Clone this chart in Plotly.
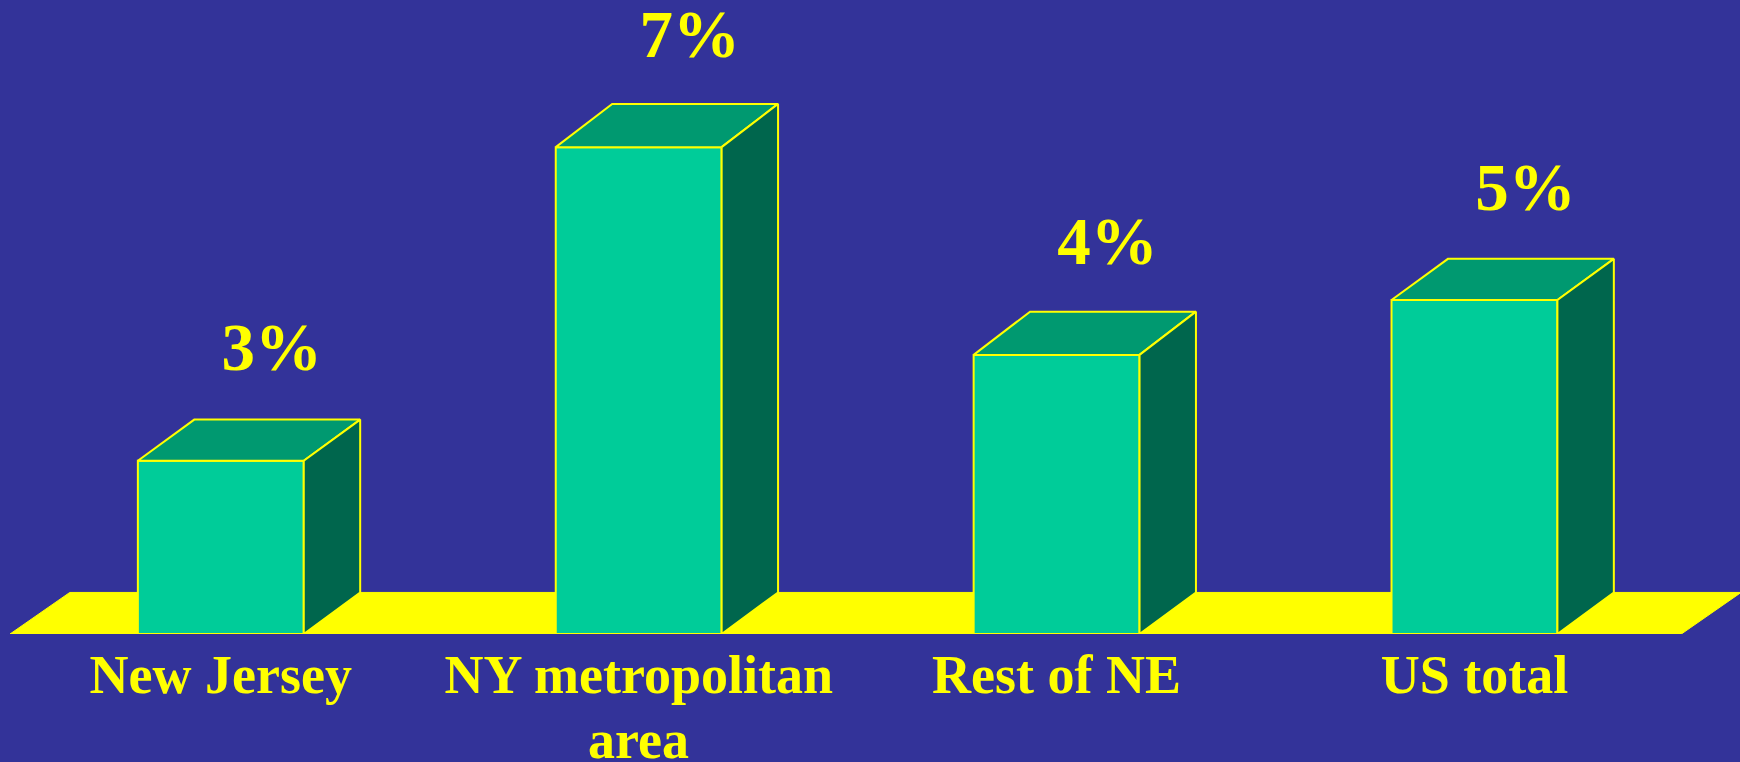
import plotly.graph_objects as go

categories = ["New Jersey", "NY metropolitan", "Rest of NE", "US total"]
second_lines = ["", "area", "", ""]
values = [3.0, 7.0, 4.35, 5.05]
value_labels = ["3%", "7%", "4%", "5%"]

BASE = 0.79
BAR_W = 0.397
DX = 0.135
DY = 0.53
TOP_DY = [0.525, 0.552, 0.552, 0.525]
LABEL_DX = 0.122
LABEL_DY = 0.94
FONT = "Liberation Serif"
BG = "#333399"
YEL = "#FFFF00"
FRONT = "#00CC99"
TOP = "#009970"
SIDE = "#00664D"
EDGE = 2

xs = list(range(len(categories)))

top_x, top_y, side_x, side_y = [], [], [], []
for x, v, d in zip(xs, values, TOP_DY):
    l, r = x - BAR_W / 2, x + BAR_W / 2
    top_x += [l, l + DX, r + DX, r, l, None]
    top_y += [v, v + d, v + d, v, v, None]
    side_x += [r, r + DX, r + DX, r, r, None]
    side_y += [v, v + d, BASE + DY, BASE, v, None]

fig = go.Figure()
fig.add_trace(go.Bar(
    x=xs, y=[v - BASE for v in values], base=BASE, width=BAR_W,
    marker=dict(color=FRONT, line=dict(color=YEL, width=EDGE)),
    hoverinfo="skip", showlegend=False, cliponaxis=False,
))
fig.add_trace(go.Scatter(
    x=top_x, y=top_y, mode="lines", fill="toself", fillcolor=TOP,
    line=dict(color=YEL, width=EDGE), hoverinfo="skip", showlegend=False, cliponaxis=False,
))
fig.add_trace(go.Scatter(
    x=side_x, y=side_y, mode="lines", fill="toself", fillcolor=SIDE,
    line=dict(color=YEL, width=EDGE), hoverinfo="skip", showlegend=False, cliponaxis=False,
))
fig.add_trace(go.Scatter(
    x=[x + LABEL_DX for x in xs], y=[v + LABEL_DY for v in values],
    mode="text", text=value_labels, textposition="top center",
    textfont=dict(family=FONT, size=67, color=YEL, weight="bold"),
    hoverinfo="skip", showlegend=False, cliponaxis=False,
))

FLOOR_L, FLOOR_R, FLOOR_DX = -0.5044, 3.495, 0.143
fig.add_shape(
    type="path", layer="below",
    path=f"M {FLOOR_L} {BASE} L {FLOOR_L + FLOOR_DX} {BASE + DY} "
         f"L {FLOOR_R + FLOOR_DX} {BASE + DY} L {FLOOR_R} {BASE} Z",
    fillcolor=YEL, line=dict(color=YEL, width=1),
)

for x, t in zip(xs, second_lines):
    if t:
        fig.add_annotation(
            x=x, xref="x", y=-0.116, yref="paper", text=t, showarrow=False,
            yanchor="top", font=dict(family=FONT, size=54, color=YEL, weight="bold"),
        )

fig.update_layout(
    width=1740, height=762, autosize=False,
    margin=dict(l=0, r=0, t=0, b=128),
    paper_bgcolor=BG, plot_bgcolor=BG, showlegend=False,
    xaxis=dict(
        range=[-0.5284, 3.6354], tickmode="array", tickvals=xs, ticktext=categories,
        showgrid=False, zeroline=False, showline=False,
        ticks="", ticklabelstandoff=4,
        tickfont=dict(family=FONT, size=54, color=YEL, weight="bold"),
    ),
    yaxis=dict(range=[BASE, BASE + 8.087], visible=False),
)

fig.write_html("out.html", config={"displayModeBar": False},
               post_script="document.body.style.margin='0';document.body.style.background='#333399';")
